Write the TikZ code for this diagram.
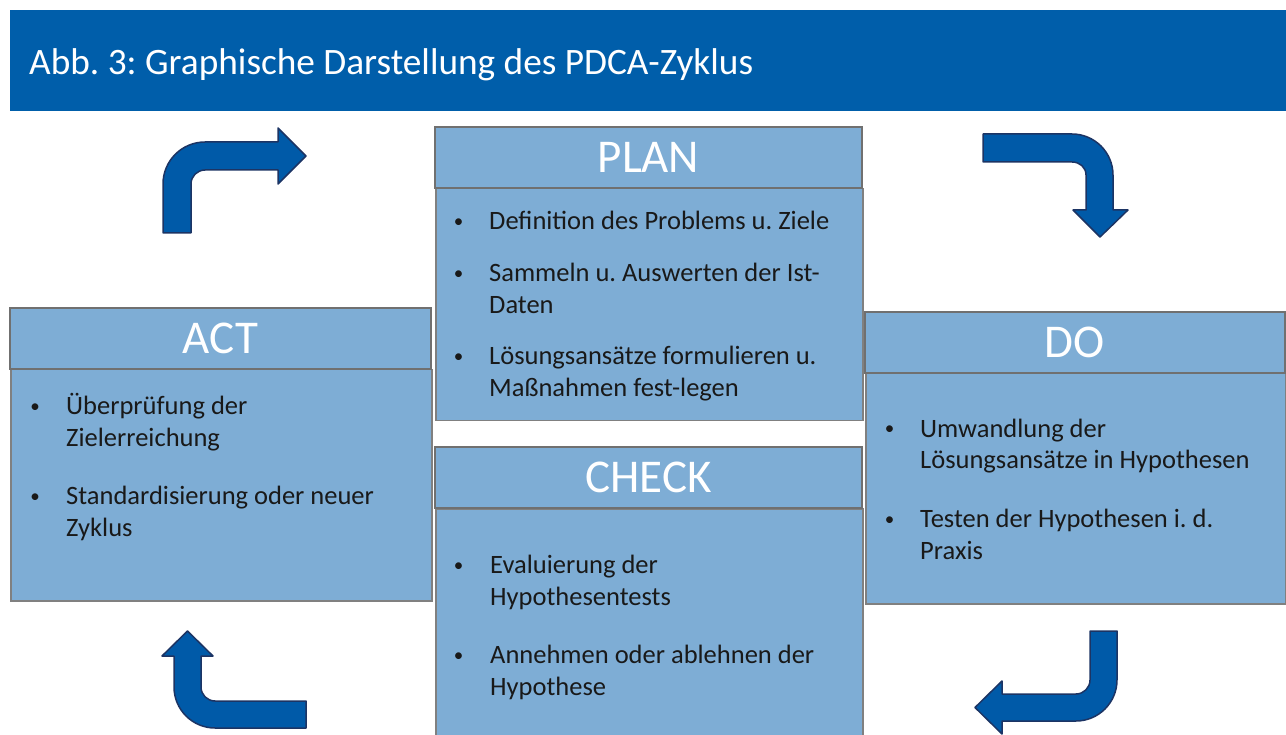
\documentclass[tikz,border=0pt]{standalone}
\usepackage{fontspec}
\setmainfont{Carlito}
\frenchspacing
\definecolor{titleblue}{RGB}{0,94,170}
\definecolor{boxblue}{RGB}{126,173,213}
\definecolor{arrowblue}{RGB}{0,90,168}
\definecolor{arrowline}{RGB}{28,52,100}
\definecolor{headline}{RGB}{112,112,112}
\definecolor{bodyline}{RGB}{128,128,128}
\newcommand{\itemlines}[1]{\begin{tabular}[t]{@{}l@{}}#1\end{tabular}}

\begin{document}
\begin{tikzpicture}[x=1pt, y=-1pt,
  headbox/.style={draw=headline, line width=2.5pt, fill=boxblue, text=white, font=\fontsize{47}{56}\selectfont, minimum height=61pt, inner sep=0pt},
  bodybox/.style={draw=bodyline, line width=1.5pt, fill=boxblue, anchor=north west, inner sep=0pt},
  bul/.style={anchor=base, inner sep=0pt, font=\fontsize{19}{24}\selectfont, text=black!90},
  itm/.style={anchor=base west, inner sep=0pt, font=\fontsize{26.5}{32}\selectfont, text=black!90},
  bent/.style={fill=arrowblue, draw=arrowline, line width=1.5pt, line join=round}]
  \useasboundingbox (0,0) rectangle (1286,735);
  \clip (0,0) rectangle (1286,735);

  % title bar
  \fill[titleblue] (10,10) rectangle (1290,111);
  \node[anchor=base west, inner sep=0pt, text=white, font=\fontsize{37.3}{44}\selectfont] (title) at (29,75) {Abb. 3: Graphische Darstellung des PDCA-Zyklus};

  % PLAN
  \node[bodybox, minimum width=427pt, minimum height=232pt] (plan-body) at (435,188) {};
  \node[headbox, minimum width=427pt] (plan) at (648.5,157.5) {PLAN};
  \node[bul] (plan-b1) at (458.5,228) {•};
  \node[itm] (plan-1) at (489,230) {\itemlines{Definition des Problems u. Ziele}};
  \node[bul] (plan-b2) at (458.5,280) {•};
  \node[itm] (plan-2) at (489,282) {\itemlines{Sammeln u. Auswerten der Ist-\\Daten}};
  \node[bul] (plan-b3) at (458.5,363) {•};
  \node[itm] (plan-3) at (489,365) {\itemlines{Lösungsansätze formulieren u.\\Maßnahmen fest-legen}};

  % CHECK
  \node[bodybox, minimum width=427pt, minimum height=260pt] (check-body) at (435,508) {};
  \node[headbox, minimum width=427pt] (check) at (648.5,477.5) {CHECK};
  \node[bul] (check-b1) at (458.5,571) {•};
  \node[itm] (check-1) at (490,573) {\itemlines{Evaluierung der\\Hypothesentests}};
  \node[bul] (check-b2) at (458.5,661) {•};
  \node[itm] (check-2) at (490,663) {\itemlines{Annehmen oder ablehnen der\\Hypothese}};

  % ACT
  \node[bodybox, minimum width=421pt, minimum height=231pt] (act-body) at (10,369) {};
  \node[headbox, minimum width=421pt] (act) at (220.5,338.5) {ACT};
  \node[bul] (act-b1) at (35,413) {•};
  \node[itm] (act-1) at (66,415) {\itemlines{Überprüfung der\\Zielerreichung}};
  \node[bul] (act-b2) at (35,502) {•};
  \node[itm] (act-2) at (66,504) {\itemlines{Standardisierung oder neuer\\Zyklus}};

  % DO
  \node[bodybox, minimum width=420pt, minimum height=230pt] (do-body) at (865,373) {};
  \node[headbox, minimum width=420pt] (do) at (1075,342.5) {DO};
  \node[bul] (do-b1) at (889.5,435) {•};
  \node[itm] (do-1) at (920,437) {\itemlines{Umwandlung der\\Lösungsansätze in Hypothesen}};
  \node[bul] (do-b2) at (889.5,525) {•};
  \node[itm] (do-2) at (920,527) {\itemlines{Testen der Hypothesen i. d.\\Praxis}};

  % bent arrows
  \draw[bent] (163,233) -- (163,184) .. controls (163,160.8) and (181.8,142) .. (205,142)
    -- (278,142) -- (278,128) -- (306,156) -- (278,184) -- (278,170) -- (205,170)
    .. controls (197.3,170) and (191,176.3) .. (191,184) -- (191,233) -- cycle;
  \draw[bent] (983,134) -- (1072,134) .. controls (1094.6,134) and (1113,152.4) .. (1113,175)
    -- (1113,210) -- (1128,210) -- (1100,237) -- (1073,210) -- (1086,210) -- (1086,175)
    .. controls (1086,167.3) and (1079.7,162) .. (1072,162) -- (983,162) -- cycle;
  \draw[bent] (306,728) -- (215,728) .. controls (192.4,728) and (174,709.6) .. (174,687)
    -- (174,656) -- (162,656) -- (187.5,631) -- (213,656) -- (201,656) -- (201,687)
    .. controls (201,694.7) and (207.3,701) .. (215,701) -- (306,701) -- cycle;
  \draw[bent] (1117,631) -- (1117,680) .. controls (1117,702.6) and (1098.6,721) .. (1076,721)
    -- (1002,721) -- (1002,734) -- (975,707.5) -- (1002,681) -- (1002,694) -- (1076,694)
    .. controls (1083.7,694) and (1090,687.7) .. (1090,680) -- (1090,631) -- cycle;
\end{tikzpicture}
\end{document}
